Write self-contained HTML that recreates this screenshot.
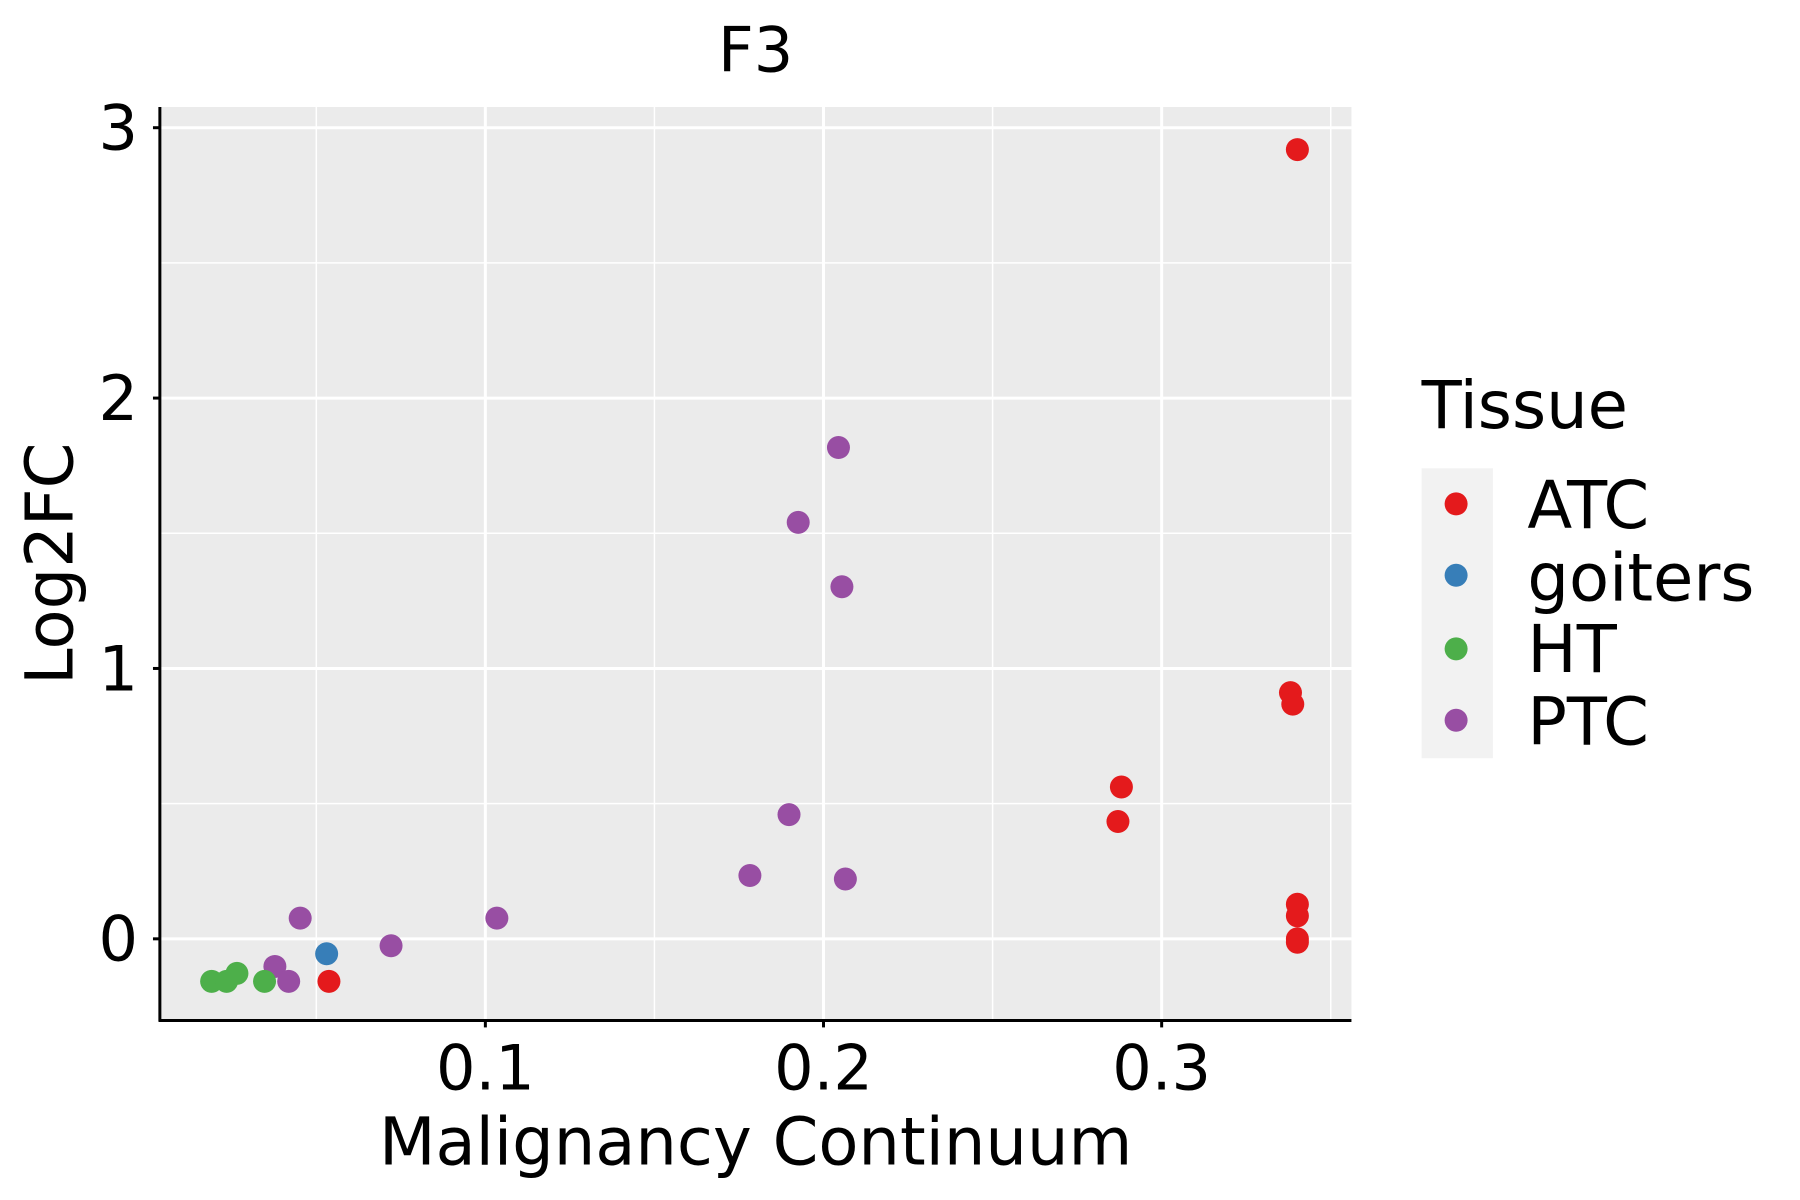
<!DOCTYPE html>
<html><head><meta charset="utf-8"><style>html,body{margin:0;padding:0;background:#fff}svg{display:block}</style></head>
<body>
<svg width="1800" height="1200" viewBox="0 0 1565 1043" preserveAspectRatio="none" xmlns="http://www.w3.org/2000/svg" font-family="DejaVu Sans, Liberation Sans, sans-serif">
<rect x="0" y="0" width="1565" height="1043" fill="#fff"/>
<rect x="139" y="93" width="1036" height="794" fill="#EBEBEB"/>
<g stroke="#fff" stroke-width="1.3">
<line x1="139" x2="1175" y1="228.5" y2="228.5"/><line x1="139" x2="1175" y1="463.5" y2="463.5"/><line x1="139" x2="1175" y1="698.5" y2="698.5"/>
<line x1="275" x2="275" y1="93" y2="887"/><line x1="569" x2="569" y1="93" y2="887"/><line x1="863" x2="863" y1="93" y2="887"/><line x1="1157" x2="1157" y1="93" y2="887"/>
</g>
<g stroke="#fff" stroke-width="2.6">
<line x1="139" x2="1175" y1="111" y2="111"/><line x1="139" x2="1175" y1="346" y2="346"/><line x1="139" x2="1175" y1="581" y2="581"/><line x1="139" x2="1175" y1="816" y2="816"/>
<line x1="422" x2="422" y1="93" y2="887"/><line x1="716" x2="716" y1="93" y2="887"/><line x1="1010" x2="1010" y1="93" y2="887"/>
</g>
<g stroke="#000" stroke-width="2.6">
<line x1="139" x2="139" y1="93" y2="888"/><line x1="138" x2="1175" y1="887" y2="887"/>
<line x1="133" x2="139" y1="111" y2="111"/><line x1="133" x2="139" y1="346" y2="346"/><line x1="133" x2="139" y1="581" y2="581"/><line x1="133" x2="139" y1="816" y2="816"/>
<line x1="422" x2="422" y1="887" y2="893"/><line x1="716" x2="716" y1="887" y2="893"/><line x1="1010" x2="1010" y1="887" y2="893"/>
</g>
<g font-size="54" fill="#000" text-anchor="end">
<text x="120" y="130">3</text><text x="120" y="365">2</text><text x="120" y="600">1</text><text x="120" y="835">0</text>
</g>
<g font-size="54" fill="#000" text-anchor="middle">
<text x="422" y="947">0.1</text><text x="716" y="947">0.2</text><text x="1010" y="947">0.3</text>
<text x="657" y="62">F3</text>
<text x="657" y="1012" font-size="57">Malignancy Continuum</text>
<text transform="translate(63,490) rotate(-90)" font-size="57">Log2FC</text>
</g>
<g fill="#984EA3">
<circle cx="729" cy="389" r="10"/><circle cx="694" cy="454" r="10"/><circle cx="732" cy="510" r="10"/><circle cx="686" cy="708" r="10"/><circle cx="652" cy="761" r="10"/><circle cx="735" cy="764" r="10"/><circle cx="261" cy="798" r="10"/><circle cx="432" cy="798" r="10"/><circle cx="340" cy="822" r="10"/><circle cx="239" cy="840" r="10"/><circle cx="251" cy="853" r="10"/>
</g>
<g fill="#4DAF4A">
<circle cx="184" cy="853" r="10"/><circle cx="197" cy="853" r="10"/><circle cx="206" cy="846" r="10"/><circle cx="230" cy="853" r="10"/>
</g>
<circle cx="284" cy="829" r="10" fill="#377EB8"/>
<g fill="#E41A1C">
<circle cx="1128" cy="130" r="10"/><circle cx="1122" cy="602" r="10"/><circle cx="1124" cy="612" r="10"/><circle cx="975" cy="684" r="10"/><circle cx="972" cy="714" r="10"/><circle cx="1128" cy="786" r="10"/><circle cx="1128" cy="796" r="10"/><circle cx="1128" cy="816" r="10"/><circle cx="1128" cy="819" r="10"/><circle cx="286" cy="853" r="10"/>
</g>
<text x="1236" y="372" font-size="57" fill="#000">Tissue</text>
<rect x="1236" y="407" width="62" height="252" fill="#F2F2F2"/>
<circle cx="1266" cy="438" r="10" fill="#E41A1C"/>
<circle cx="1266" cy="500" r="10" fill="#377EB8"/>
<circle cx="1266" cy="564" r="10" fill="#4DAF4A"/>
<circle cx="1266" cy="626" r="10" fill="#984EA3"/>
<g font-size="57" fill="#000">
<text x="1328" y="459">ATC</text><text x="1328" y="522">goiters</text><text x="1328" y="584">HT</text><text x="1328" y="647">PTC</text>
</g>
</svg>
</body></html>
